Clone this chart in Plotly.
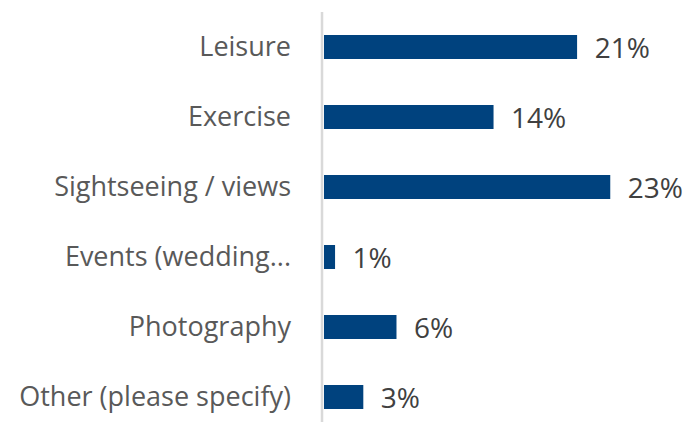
import plotly.graph_objects as go

categories = ["Leisure", "Exercise", "Sightseeing / views", "Events (wedding...",
              "Photography", "Other (please specify)"]
values = [20.6, 13.8, 23.3, 0.9, 5.9, 3.2]

BAR_COLOR = "#00427e"
FONT = "Segoe UI, Open Sans, sans-serif"

fig = go.Figure(go.Bar(
    x=values, y=categories, orientation="h",
    marker=dict(color=BAR_COLOR, line=dict(width=0)),
    width=0.343,
    texttemplate="\u00a0\u00a0%{x:.0f}%",
    textposition="outside",
    constraintext="none",
    cliponaxis=False,
    textfont=dict(family=FONT, size=28, color="#404040"),
    hoverinfo="skip",
))

fig.update_layout(
    width=684, height=422,
    margin=dict(l=324, r=16, t=0, b=0),
    paper_bgcolor="white", plot_bgcolor="white",
    showlegend=False,
    xaxis=dict(range=[0, 28], visible=False, fixedrange=True),
    yaxis=dict(type="category", range=[5.357, -0.671], showgrid=False,
               showline=False, zeroline=False, ticks="", automargin=False,
               ticklabelstandoff=32, fixedrange=True,
               tickfont=dict(family=FONT, size=27, color="#595959")),
    shapes=[dict(type="line", xref="paper", yref="paper", x0=-0.0058, x1=-0.0058,
                 y0=0, y1=0.9716, line=dict(color="#d9d9d9", width=2.5),
                 layer="below")],
)

fig.write_html("out.html", config={"displayModeBar": False},
               post_script="document.body.style.margin='0';")
